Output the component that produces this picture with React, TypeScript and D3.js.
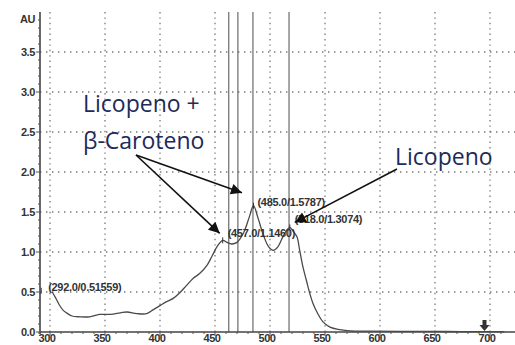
import React from "react";
import * as d3 from "d3";

// Absorbance spectrum (wavelength nm, AU)
const wavelengths = [302, 305, 308, 312, 316, 320, 327, 336, 345, 355, 364, 370, 379, 388, 394, 400, 406, 412, 418, 424, 430, 436, 443, 447, 452, 457, 461, 465, 470, 476, 481, 485, 489, 494, 499, 503, 507, 511, 515, 518, 521, 524.5, 527, 530, 533, 536, 539, 543, 548, 554.5, 563.6, 573, 590, 620, 660, 700, 713];
const absorbance = [0.5, 0.43, 0.35, 0.27, 0.23, 0.2, 0.19, 0.19, 0.22, 0.22, 0.24, 0.25, 0.23, 0.23, 0.28, 0.33, 0.38, 0.42, 0.49, 0.58, 0.67, 0.73, 0.84, 0.94, 1.07, 1.146, 1.12, 1.1, 1.12, 1.24, 1.43, 1.5787, 1.43, 1.21, 1.06, 1.02, 1.06, 1.17, 1.27, 1.3074, 1.26, 1.19, 1.02, 0.81, 0.65, 0.49, 0.36, 0.24, 0.13, 0.06, 0.03, 0.015, 0.01, 0.008, 0.006, 0.005, 0.005];

// Picked points and their labels
const peakX = [292.0, 457.0, 485.0, 518.0];
const peakY = [0.51559, 1.146, 1.5787, 1.3074];
const peakLabels = ["(292.0/0.51559)", "(457.0/1.1460)", "(485.0/1.5787)", "(518.0/1.3074)"];

// Cursor lines
const cursorLines = [462.5, 470.8, 484.5, 517.3];

const xTicks = [300, 350, 400, 450, 500, 550, 600, 650, 700];
const yTicks = [0.0, 0.5, 1.0, 1.5, 2.0, 2.5, 3.0, 3.5];

const W = 515;
const H = 345;

export default function App() {
  const x = d3.scaleLinear().domain([300, 700]).range([50, 490]);
  const y = d3.scaleLinear().domain([0, 3.5]).range([332, 52]);
  const left = 40;
  const top = 12;
  const bottom = y(0);
  const right = W;

  const line = d3
    .line<number>()
    .x((_, i) => x(wavelengths[i]))
    .y((d) => y(d))
    .curve(d3.curveCatmullRom.alpha(0.5));

  const minorY = d3.range(0, 3.95, 0.1);
  const minorX = d3.range(290, 715, 10);

  const labelFont = "'Liberation Sans', Arial, sans-serif";
  const annFont = "'Open Sans', 'Noto Sans', sans-serif";
  const annColor = "#1d2a5a";
  const gridColor = "#777";

  // label offsets relative to each picked point
  const labelDx = [7, 5, 4, 5];
  const labelDy = [0, -3, 0, -4];

  // annotation arrows: start points in pixel space, tips relative to data
  const arrowStart: [number, number] = [136, 155];
  const arrow1Tip: [number, number] = [x(peakX[1]) - 3, y(peakY[1]) - 7];
  const arrow2Tip: [number, number] = [x(474.5), y(1.74)];
  const arrow3Start: [number, number] = [397, 169];
  const arrow3Tip: [number, number] = [x(peakX[3]) + 5, y(peakY[3]) - 5];

  return (
    <svg
      width={W}
      height={H}
      style={{ position: "absolute", left: 0, top: 0, background: "#fff" }}
    >
      <defs>
        <marker
          id="head"
          viewBox="0 0 10 10"
          refX="10"
          refY="5"
          markerWidth="15"
          markerHeight="11"
          markerUnits="userSpaceOnUse"
          orient="auto"
        >
          <path d="M0,0 L10,5 L0,10 z" fill="#111" />
        </marker>
      </defs>

      {/* grid */}
      {yTicks.slice(1).map((t) => (
        <line
          key={"gy" + t}
          x1={left}
          x2={right}
          y1={y(t)}
          y2={y(t)}
          stroke={gridColor}
          strokeWidth={1.3}
          strokeDasharray="1.4,4.6"
        />
      ))}
      {xTicks.map((t) => (
        <line
          key={"gx" + t}
          x1={x(t)}
          x2={x(t)}
          y1={top}
          y2={bottom}
          stroke={gridColor}
          strokeWidth={1.3}
          strokeDasharray="1.4,4"
        />
      ))}

      {/* cursor lines */}
      {cursorLines.map((c) => (
        <line
          key={"c" + c}
          x1={x(c)}
          x2={x(c)}
          y1={top}
          y2={bottom}
          stroke="#6a6a6a"
          strokeWidth={1.2}
        />
      ))}

      {/* axes */}
      <line x1={left} x2={left} y1={top} y2={bottom + 2} stroke="#444" strokeWidth={1.6} />
      <line x1={left} x2={right} y1={bottom} y2={bottom} stroke="#444" strokeWidth={1.6} />
      {minorY.map((t, i) => (
        <line
          key={"my" + i}
          x1={left - (i % 5 === 0 ? 4 : 2)}
          x2={left}
          y1={y(t)}
          y2={y(t)}
          stroke="#555"
          strokeWidth={1}
        />
      ))}
      {minorX.map((t, i) => (
        <line
          key={"mx" + i}
          x1={x(t)}
          x2={x(t)}
          y1={bottom}
          y2={bottom + (t % 50 === 0 ? 4 : 2)}
          stroke="#555"
          strokeWidth={1}
        />
      ))}

      {yTicks.map((t) => (
        <text
          key={"ty" + t}
          x={35}
          y={y(t) + 4}
          textAnchor="end"
          fontFamily={labelFont}
          fontWeight="bold"
          fontSize={11}
          fill="#333"
          letterSpacing={-0.4}
        >
          {t.toFixed(1)}
        </text>
      ))}
      <text
        x={35}
        y={top + 11}
        textAnchor="end"
        fontFamily={labelFont}
        fontWeight="bold"
        fontSize={11}
        fill="#333"
        letterSpacing={-0.4}
      >
        AU
      </text>
      {xTicks.map((t) => (
        <text
          key={"tx" + t}
          x={x(t) - 3}
          y={H - 3}
          textAnchor="middle"
          fontFamily={labelFont}
          fontWeight="bold"
          fontSize={11}
          fill="#333"
          letterSpacing={-0.4}
        >
          {t}
        </text>
      ))}

      {/* spectrum */}
      <path
        d={line(absorbance) || ""}
        fill="none"
        stroke="#4a4a4a"
        strokeWidth={1.3}
      />

      {/* picked points */}
      {peakX.map((px, i) => (
        <g key={"p" + px}>
          <line
            x1={x(px)}
            x2={x(px)}
            y1={y(peakY[i]) - 3}
            y2={y(peakY[i]) + 3}
            stroke="#333"
            strokeWidth={1}
          />
          <text
            x={x(px) + labelDx[i]}
            y={y(peakY[i]) + labelDy[i]}
            fontFamily={labelFont}
            fontWeight="bold"
            fontSize={11}
            fill="#333"
            letterSpacing={-0.3}
          >
            {peakLabels[i]}
          </text>
        </g>
      ))}

      {/* down arrow near 695 nm */}
      <path
        d={`M${x(695) - 2},${bottom - 12} h4 v5 h3 l-5,6 l-5,-6 h3 z`}
        fill="#333"
      />

      {/* annotations */}
      <line
        x1={arrowStart[0]}
        y1={arrowStart[1]}
        x2={arrow1Tip[0]}
        y2={arrow1Tip[1]}
        stroke="#111"
        strokeWidth={1.6}
        markerEnd="url(#head)"
      />
      <line
        x1={arrowStart[0]}
        y1={arrowStart[1]}
        x2={arrow2Tip[0]}
        y2={arrow2Tip[1]}
        stroke="#111"
        strokeWidth={1.6}
        markerEnd="url(#head)"
      />
      <line
        x1={arrow3Start[0]}
        y1={arrow3Start[1]}
        x2={arrow3Tip[0]}
        y2={arrow3Tip[1]}
        stroke="#111"
        strokeWidth={1.6}
        markerEnd="url(#head)"
      />
      <text x={83} y={112} fontFamily={annFont} fontSize={23} fill={annColor}>
        Licopeno +
      </text>
      <text x={83} y={149} fontFamily={annFont} fontSize={23} fill={annColor}>
        β-Caroteno
      </text>
      <text x={395} y={165} fontFamily={annFont} fontSize={23} fill={annColor}>
        Licopeno
      </text>
    </svg>
  );
}
